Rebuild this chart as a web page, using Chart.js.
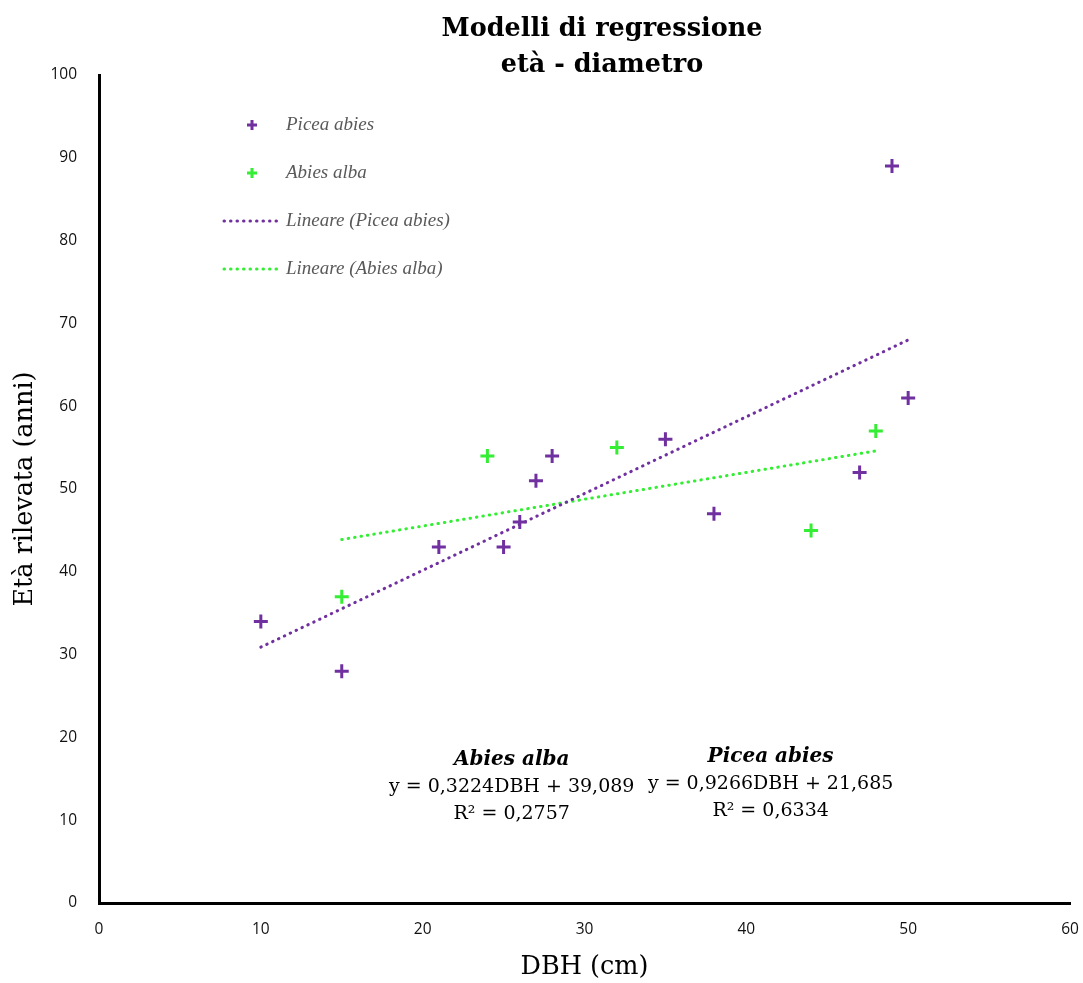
<!DOCTYPE html>
<html>
<head>
<meta charset="utf-8">
<script src="https://cdn.jsdelivr.net/npm/chart.js@4/dist/chart.umd.min.js"></script>
<style>
  html, body { margin: 0; padding: 0; background: #fff; }
  #wrap { width: 1083px; height: 983px; }
</style>
</head>
<body>
<div id="wrap"><canvas id="regChart" width="1083" height="983"></canvas></div>
<script>
// valori
const piceaDbh = [10, 15, 21, 25, 26, 27, 28, 35, 38, 47, 49, 50];
const piceaEta = [34, 28, 43, 43, 46, 51, 54, 56, 47, 52, 89, 61];
const abiesDbh = [15, 24, 32, 44, 48];
const abiesEta = [37, 54, 55, 45, 57];

// estremi delle linee di tendenza
const piceaTrendX = [10, 50];
const piceaTrendY = [30.9, 68.0];
const abiesTrendX = [15, 48];
const abiesTrendY = [43.9, 54.6];

const xTicks = [0, 10, 20, 30, 40, 50, 60];
const yTicks = [0, 10, 20, 30, 40, 50, 60, 70, 80, 90, 100];

const PURPLE = "#7030A0";
const GREEN = "#33EE33";
const SERIF = "'DejaVu Serif', 'Liberation Serif', serif";
const SERIF2 = "'Liberation Serif', serif";
const SANS = "'Open Sans', sans-serif";

const toPoints = (xs, ys) => xs.map((x, i) => ({ x: x, y: ys[i] }));

const legendItems = [
  { label: "Picea abies", color: PURPLE, kind: "point" },
  { label: "Abies alba", color: GREEN, kind: "point" },
  { label: "Lineare (Picea abies)", color: PURPLE, kind: "line" },
  { label: "Lineare (Abies alba)", color: GREEN, kind: "line" }
];

const notes = [
  { x: 25.5, y: 17.3, lines: ["Abies alba", "y = 0,3224DBH + 39,089", "R² = 0,2757"] },
  { x: 41.5, y: 17.6, lines: ["Picea abies", "y = 0,9266DBH + 21,685", "R² = 0,6334"] }
];

// titolo, legenda e note disegnati a mano
const extras = {
  id: "extras",
  afterDraw(chart) {
    const ctx = chart.ctx;
    const xs = chart.scales.x;
    const ys = chart.scales.y;
    ctx.save();

    ctx.fillStyle = "#000";
    ctx.textAlign = "center";
    ctx.textBaseline = "middle";
    ctx.font = "bold 25.5px " + SERIF;
    ctx.fillText("Modelli di regressione", 602, 29);
    ctx.fillText("età - diametro", 602, 65);

    // legenda
    legendItems.forEach((item, i) => {
      const y = 125 + i * 48;
      ctx.strokeStyle = item.color;
      if (item.kind === "point") {
        ctx.lineWidth = 3;
        ctx.setLineDash([]);
        ctx.beginPath();
        ctx.moveTo(247, y); ctx.lineTo(257, y);
        ctx.moveTo(252, y - 5); ctx.lineTo(252, y + 5);
        ctx.stroke();
      } else {
        ctx.lineWidth = 3;
        ctx.lineCap = "round";
        ctx.setLineDash([0.5, 6]);
        ctx.beginPath();
        ctx.moveTo(224, y); ctx.lineTo(281, y);
        ctx.stroke();
        ctx.setLineDash([]);
      }
      ctx.fillStyle = "#595959";
      ctx.textAlign = "left";
      ctx.font = "italic 19px " + SERIF2;
      ctx.fillText(item.label, 286, y);
    });

    // equazioni
    ctx.fillStyle = "#000";
    ctx.textAlign = "center";
    notes.forEach(n => {
      const px = xs.getPixelForValue(n.x);
      const py = ys.getPixelForValue(n.y);
      n.lines.forEach((t, i) => {
        ctx.font = (i === 0 ? "bold italic 20px " : "19px ") + SERIF;
        ctx.fillText(t, px, py + i * 27);
      });
    });
    ctx.restore();
  }
};

new Chart(document.getElementById("regChart").getContext("2d"), {
  type: "scatter",
  data: {
    datasets: [
      {
        label: "Picea abies",
        data: toPoints(piceaDbh, piceaEta),
        pointStyle: "cross",
        pointRadius: 7,
        pointBorderWidth: 3,
        borderColor: PURPLE,
        backgroundColor: PURPLE
      },
      {
        label: "Abies alba",
        data: toPoints(abiesDbh, abiesEta),
        pointStyle: "cross",
        pointRadius: 7,
        pointBorderWidth: 3,
        borderColor: GREEN,
        backgroundColor: GREEN
      },
      {
        label: "Lineare (Picea abies)",
        type: "line",
        data: toPoints(piceaTrendX, piceaTrendY),
        borderColor: PURPLE,
        borderWidth: 3,
        borderDash: [0.5, 6],
        borderCapStyle: "round",
        pointRadius: 0,
        fill: false
      },
      {
        label: "Lineare (Abies alba)",
        type: "line",
        data: toPoints(abiesTrendX, abiesTrendY),
        borderColor: GREEN,
        borderWidth: 3,
        borderDash: [0.5, 6],
        borderCapStyle: "round",
        pointRadius: 0,
        fill: false
      }
    ]
  },
  options: {
    responsive: false,
    animation: false,
    layout: { padding: { top: 75, right: 13, left: 0, bottom: 0 } },
    plugins: {
      legend: { display: false },
      title: { display: false },
      tooltip: { enabled: false }
    },
    scales: {
      x: {
        type: "linear",
        min: 0,
        max: 60,
        afterBuildTicks: s => { s.ticks = xTicks.map(v => ({ value: v })); },
        afterFit: s => { s.height = 80; s.paddingRight = 0; s.paddingLeft = 0; },
        grid: { display: false },
        border: { display: true, color: "#000", width: 3 },
        ticks: { color: "#111", font: { family: SANS, size: 15.5 }, padding: 9 },
        title: {
          display: true,
          text: "DBH (cm)",
          color: "#000",
          font: { family: SERIF, size: 25.5 },
          padding: { top: 2, bottom: 0 }
        }
      },
      y: {
        type: "linear",
        min: 0,
        max: 100,
        afterBuildTicks: s => { s.ticks = yTicks.map(v => ({ value: v })); },
        afterFit: s => { s.width = 99; },
        grid: { display: false },
        border: { display: true, color: "#000", width: 3 },
        ticks: { color: "#111", font: { family: SANS, size: 15.5 }, padding: 14 },
        title: {
          display: true,
          text: "Età rilevata (anni)",
          color: "#000",
          font: { family: SERIF, size: 25.5 },
          padding: { top: 10, bottom: 8 }
        }
      }
    }
  },
  plugins: [extras]
});
</script>
</body>
</html>
